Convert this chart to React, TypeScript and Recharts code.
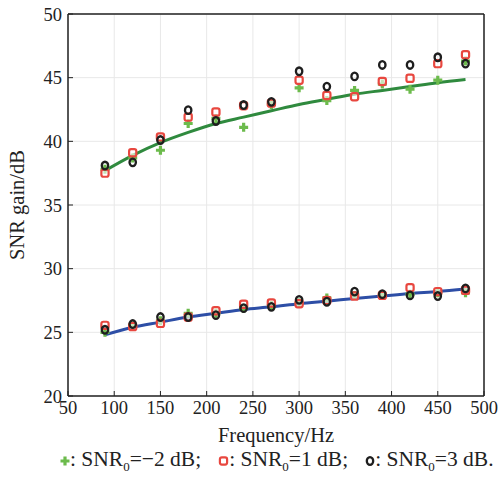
import React from 'react'
import {
  ComposedChart,
  Line,
  Scatter,
  XAxis,
  YAxis,
  CartesianGrid,
  ReferenceLine,
  Label,
} from 'recharts'

const freqs = [90, 120, 150, 180, 210, 240, 270, 300, 330, 360, 390, 420, 450, 480]

// upper group (high SNR gain)
const highM2 = [37.8, 38.7, 39.3, 41.4, 41.8, 41.1, 42.9, 44.2, 43.2, 44.0, 44.5, 44.1, 44.8, 46.3]
const highP1 = [37.5, 39.1, 40.35, 41.9, 42.3, 42.8, 43.0, 44.8, 43.6, 43.5, 44.7, 44.95, 46.1, 46.8]
const highP3 = [38.1, 38.35, 40.1, 42.45, 41.6, 42.85, 43.1, 45.5, 44.3, 45.1, 46.0, 46.0, 46.6, 46.1]
const fitHigh = [37.7, 38.9, 39.9, 40.7, 41.4, 41.9, 42.4, 42.9, 43.3, 43.7, 44.0, 44.3, 44.6, 44.85]

// lower group
const lowM2 = [25.0, 25.5, 25.9, 26.5, 26.5, 26.9, 27.1, 27.3, 27.7, 27.9, 27.9, 28.0, 28.1, 28.1]
const lowP1 = [25.55, 25.45, 25.7, 26.2, 26.7, 27.2, 27.3, 27.25, 27.5, 27.85, 27.9, 28.5, 28.2, 28.3]
const lowP3 = [25.2, 25.65, 26.2, 26.2, 26.35, 26.9, 27.0, 27.55, 27.4, 28.2, 28.0, 27.9, 27.85, 28.45]
const fitLow = [24.8, 25.4, 25.8, 26.2, 26.5, 26.8, 27.0, 27.25, 27.45, 27.65, 27.85, 28.05, 28.2, 28.4]

const xTicks = [50, 100, 150, 200, 250, 300, 350, 400, 450, 500]
const yTicks = [20, 25, 30, 35, 40, 45, 50]

const FONT = '"Liberation Serif", "Times New Roman", serif'
const GREEN = '#6cbb4c'
const RED = '#e8473f'
const BLACK = '#1e1e1e'

const table = freqs.map((f, i) => ({ f, fitHigh: fitHigh[i], fitLow: fitLow[i] }))
const pts = (arr: number[]) => freqs.map((f, i) => ({ f, v: arr[i] }))

const Plus = (p: any) => {
  const { cx, cy } = p
  if (cx == null) return null
  return (
    <path
      d={`M${cx - 1.6},${cy - 4.5}h3.2v2.9h2.9v3.2h-2.9v2.9h-3.2v-2.9h-2.9v-3.2h2.9z`}
      fill={GREEN}
    />
  )
}

const Square = (p: any) => {
  const { cx, cy } = p
  if (cx == null) return null
  return <rect x={cx - 3.6} y={cy - 3.6} width={7.2} height={7.2} rx={2} fill="#fff" fillOpacity={0.6} stroke={RED} strokeWidth={2.2} />
}

const Ring = (p: any) => {
  const { cx, cy } = p
  if (cx == null) return null
  return <ellipse cx={cx} cy={cy} rx={3.2} ry={3.8} fill="none" stroke={BLACK} strokeWidth={2.3} />
}

function Legend() {
  const txt = { marginRight: 17 }
  const sub = { fontSize: 13 }
  return (
    <div
      style={{
        position: 'absolute',
        left: 60,
        top: 447,
        fontFamily: FONT,
        fontSize: 21.5,
        color: '#222',
        whiteSpace: 'nowrap',
        display: 'flex',
        alignItems: 'center',
      }}
    >
      <svg width={10} height={12}>
        <Plus cx={5} cy={6} />
      </svg>
      <span style={txt}>: SNR<sub style={sub}>0</sub>=−2 dB;</span>
      <svg width={11} height={12}>
        <Square cx={5.5} cy={6} />
      </svg>
      <span style={txt}>: SNR<sub style={sub}>0</sub>=1 dB;</span>
      <svg width={10} height={12}>
        <Ring cx={5} cy={6} />
      </svg>
      <span>: SNR<sub style={sub}>0</sub>=3 dB.</span>
    </div>
  )
}

export default function App() {
  const tickStyle = { fontFamily: FONT, fontSize: 18.5, fill: '#222' }
  return (
    <div style={{ position: 'absolute', left: 0, top: 0, width: 499, height: 480, background: '#fff' }}>
      <ComposedChart width={499} height={480} data={table} margin={{ top: 14, right: 15, left: 0, bottom: 34 }}>
        <CartesianGrid stroke="#e8e8e8" strokeWidth={1} />
        <XAxis
          dataKey="f"
          type="number"
          domain={[50, 500]}
          ticks={xTicks}
          interval={0}
          height={50}
          tickSize={-5}
          tickMargin={10}
          tick={tickStyle}
          stroke="#222"
          axisLine={{ stroke: '#222', strokeWidth: 1.5 }}
        >
          <Label
            content={() => (
              <text x={276} y={442} textAnchor="middle" fontFamily={FONT} fontSize={20.5} fill="#222">
                Frequency/Hz
              </text>
            )}
          />
        </XAxis>
        <YAxis
          type="number"
          domain={[20, 50]}
          ticks={yTicks}
          interval={0}
          width={68}
          tickSize={-5}
          tickMargin={11}
          tick={tickStyle}
          stroke="#222"
          axisLine={{ stroke: '#222', strokeWidth: 1.5 }}
        >
          <Label
            content={() => (
              <text
                x={24}
                y={205}
                textAnchor="middle"
                transform="rotate(-90 24 205)"
                fontFamily={FONT}
                fontSize={20.5}
                fill="#222"
              >
                SNR gain/dB
              </text>
            )}
          />
        </YAxis>
        <ReferenceLine x={500} stroke="#222" strokeWidth={1.5} />
        <ReferenceLine y={50} stroke="#222" strokeWidth={1.5} />
        <Scatter data={pts(highM2)} dataKey="v" shape={Plus} isAnimationActive={false} />
        <Scatter data={pts(lowM2)} dataKey="v" shape={Plus} isAnimationActive={false} />
        <Scatter data={pts(highP1)} dataKey="v" shape={Square} isAnimationActive={false} />
        <Scatter data={pts(lowP1)} dataKey="v" shape={Square} isAnimationActive={false} />
        <Scatter data={pts(highP3)} dataKey="v" shape={Ring} isAnimationActive={false} />
        <Scatter data={pts(lowP3)} dataKey="v" shape={Ring} isAnimationActive={false} />
        <Line dataKey="fitHigh" type="monotone" stroke="#2f8a3e" strokeWidth={3} dot={false} isAnimationActive={false} />
        <Line dataKey="fitLow" type="monotone" stroke="#2d4ea6" strokeWidth={3} dot={false} isAnimationActive={false} />
      </ComposedChart>
      <Legend />
    </div>
  )
}
